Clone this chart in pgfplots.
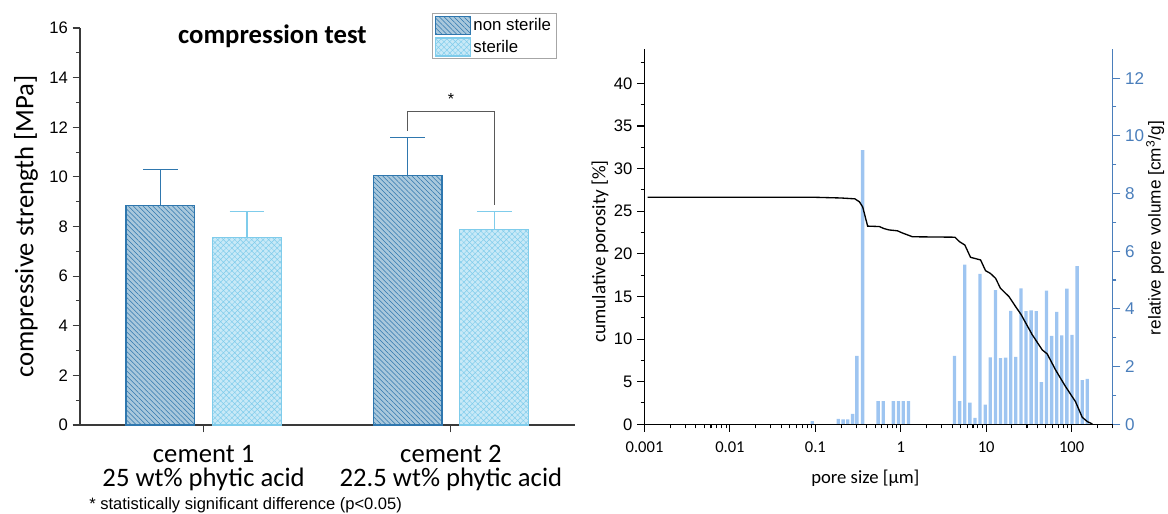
\documentclass[border=0pt]{standalone}
\usepackage{fontspec}
\setmainfont{Carlito}
\newfontfamily\arial{Liberation Sans}
\usepackage{pgfplots}
\pgfplotsset{compat=1.18}
\usetikzlibrary{patterns.meta}

\definecolor{nsfill}{HTML}{A9C8DC}
\definecolor{nsline}{HTML}{2F77AE}
\definecolor{stfill}{HTML}{C8E9F7}
\definecolor{stline}{HTML}{7FCCEB}
\definecolor{barblue}{HTML}{9EC5F1}
\definecolor{axblue}{HTML}{4A7EBB}
\definecolor{axgray}{HTML}{3A3A3A}

\pgfplotsset{my bar legend/.style={legend image code/.code={\draw[##1] (0pt,-6.8pt) rectangle (26pt,6.8pt);}}}

\begin{document}
\begin{tikzpicture}
\useasboundingbox (0,0) rectangle (876pt,385.5pt);

% ---------------- left chart ----------------
\begin{axis}[
  at={(60pt,66.75pt)}, anchor=south west,
  scale only axis, width=370.9pt, height=297.75pt,
  xmin=-0.5, xmax=1.5, ymin=0, ymax=16,
  axis x line*=bottom, axis y line*=left,
  axis line style={axgray, line width=1pt},
  xtick={0,1},
  xticklabels={{cement 1\\25 wt\% phytic acid},{cement 2\\22.5 wt\% phytic acid}},
  xticklabel style={align=center, font=\fontsize{20}{18.3}\selectfont, yshift=-6pt},
  ytick={0,2,...,16}, minor ytick={1,3,...,15},
  tick align=outside, major tick length=5.6pt, minor tick length=3pt,
  tick style={axgray, line width=0.8pt},
  /pgf/number format/assume math mode=true,
  yticklabel style={font=\arial\fontsize{12.5}{14}\selectfont},
  ylabel={compressive strength [MPa]},
  ylabel style={font=\fontsize{20}{22}\selectfont, at={(axis description cs:-0.109,0.5)}, anchor=center},
  legend style={at={(axis description cs:0.964,1.037)}, anchor=north east,
    draw=gray!70, line width=0.6pt, font=\arial\fontsize{12.6}{14}\selectfont,
    inner xsep=2pt, inner ysep=1.5pt, row sep=1.5pt, cells={anchor=west}},
  legend cell align=left,
  clip=false,
]
\addplot[ybar, bar width=51.6pt, bar shift=0pt, my bar legend,
  draw=nsline, line width=0.9pt, fill=nsfill,
  postaction={pattern={Lines[angle=-45,distance=2.6pt,line width=0.4pt]}, pattern color=nsline},
  error bars/.cd, y dir=plus, y explicit,
  error bar style={nsline, line width=0.9pt},
  error mark options={nsline, line width=0.9pt, mark size=13pt, rotate=90}]
  coordinates {(-0.175,8.84) +- (0,1.46) (0.825,10.04) +- (0,1.54)};
\addlegendentry{non sterile}
\addplot[ybar, bar width=51.6pt, bar shift=0pt, my bar legend,
  draw=stline, line width=0.9pt, fill=stfill,
  postaction={pattern={Hatch[angle=45,distance=3pt,line width=0.35pt]}, pattern color=stline},
  error bars/.cd, y dir=plus, y explicit,
  error bar style={stline, line width=0.9pt},
  error mark options={stline, line width=0.9pt, mark size=13pt, rotate=90}]
  coordinates {(0.175,7.55) +- (0,1.05) (1.175,7.89) +- (0,0.71)};
\addlegendentry{sterile}

\draw[black!65, line width=1pt] (axis cs:0.825,11.85) -- (axis cs:0.825,12.63) -- (axis cs:1.175,12.63) -- (axis cs:1.175,8.87);
\node[font=\arial\fontsize{12}{12}\selectfont, anchor=base] at (axis cs:1.0,12.92) {*};
\node[font=\bfseries\fontsize{20}{22}\selectfont] at (axis description cs:0.389,0.98) {compression test};
\node[anchor=west, font=\arial\fontsize{12.4}{14}\selectfont] at (axis description cs:0.0093,-0.201) {* statistically significant difference (p<0.05)};
\end{axis}

% ---------------- right chart: bars (right axis) ----------------
\begin{axis}[
  at={(483.4pt,67.3pt)}, anchor=south west,
  scale only axis, width=350.9pt, height=281.25pt,
  xmode=log, xmin=0.001, xmax=300, ymin=0, ymax=13,
  axis y line*=right, axis x line=none,
  y axis line style={axblue, line width=1pt},
  ytick={0,2,...,12}, minor ytick={1,3,...,11},
  tick align=outside, major tick length=6pt, minor tick length=3pt,
  ytick style={axblue, line width=0.8pt},
  /pgf/number format/assume math mode=true,
  yticklabel style={axblue, font=\arial\fontsize{12.8}{14}\selectfont},
  ylabel={relative pore volume [cm\textsuperscript{3}/g]},
  ylabel style={font=\arial\fontsize{12.9}{14}\selectfont, at={(axis description cs:1.0915,0.523)}, anchor=center},
]
\addplot[ybar, bar width=2.5pt, bar shift=0pt, fill=barblue, draw=none] coordinates {
(0.092,0.11) (0.185,0.19) (0.211,0.17) (0.239,0.17) (0.273,0.36) (0.306,2.37) (0.357,9.5)
(0.543,0.8) (0.622,0.8) (0.818,0.8) (0.938,0.8) (1.07,0.8) (1.23,0.8)
(4.26,2.37) (4.88,0.80) (5.61,5.53) (6.44,0.75) (7.38,0.22) (8.47,5.21) (9.72,0.68)
(11.16,2.32) (12.81,4.65) (14.70,2.29) (16.87,2.31) (19.36,3.93) (22.21,2.34) (25.49,4.71)
(29.25,3.92) (33.57,3.95) (38.52,3.92) (44.21,1.46) (50.74,4.63) (58.22,3.06) (66.83,3.90)
(76.68,3.08) (88.00,4.70) (101.0,3.10) (115.9,5.48) (133.0,1.53) (152.6,1.57)
};
\end{axis}

% ---------------- right chart: line (left axis) ----------------
\begin{axis}[
  at={(483.4pt,67.3pt)}, anchor=south west,
  scale only axis, width=350.9pt, height=281.25pt,
  xmode=log, xmin=0.001, xmax=300, ymin=0, ymax=44,
  axis x line*=bottom, axis y line*=left,
  axis line style={black, line width=1pt},
  xtick={0.001,0.01,0.1,1,10,100},
  xticklabels={0.001,0.01,0.1,1,10,100},
  minor xtick={0.002,0.003,0.004,0.005,0.006,0.007,0.008,0.009,
    0.02,0.03,0.04,0.05,0.06,0.07,0.08,0.09,
    0.2,0.3,0.4,0.5,0.6,0.7,0.8,0.9,
    2,3,4,5,6,7,8,9,20,30,40,50,60,70,80,90,200,300},
  ytick={0,5,...,40}, minor ytick={2.5,7.5,...,42.5},
  tick align=outside, major tick length=5.6pt, minor tick length=3pt,
  tick style={black, line width=0.8pt},
  /pgf/number format/assume math mode=true,
  xticklabel style={font=\fontsize{12.4}{13}\selectfont, yshift=-4pt},
  yticklabel style={font=\arial\fontsize{12.5}{13}\selectfont},
  xlabel={pore size [µm]},
  xlabel style={font=\fontsize{14}{15}\selectfont, at={(axis description cs:0.472,-0.143)}, anchor=center},
  ylabel={cumulative porosity [\%]},
  ylabel style={font=\fontsize{14.3}{16}\selectfont, at={(axis description cs:-0.095,0.461)}, anchor=center},
]
\addplot[black, line width=1pt] coordinates {
(0.00109,26.63) (0.1,26.63) (0.2,26.55) (0.29,26.45) (0.328,26.1) (0.358,25.5) (0.409,23.25)
(0.56,23.2) (0.64,22.95) (0.731,22.8) (0.914,22.7) (1.04,22.45) (1.37,22.0) (4.3,21.95)
(4.87,21.42) (5.62,21.03) (6.55,19.59) (8.59,19.28) (9.82,18.02) (11.2,17.7) (12.85,17.13)
(14.7,15.95) (18.5,14.97) (22.1,13.8) (25.5,12.9) (34.6,10.5) (45.3,8.72) (51.8,8.25)
(64.9,6.37) (85,4.41) (111,2.65) (133,0.82) (153,0.31) (175,0.03)
};
\end{axis}
\end{tikzpicture}
\end{document}
